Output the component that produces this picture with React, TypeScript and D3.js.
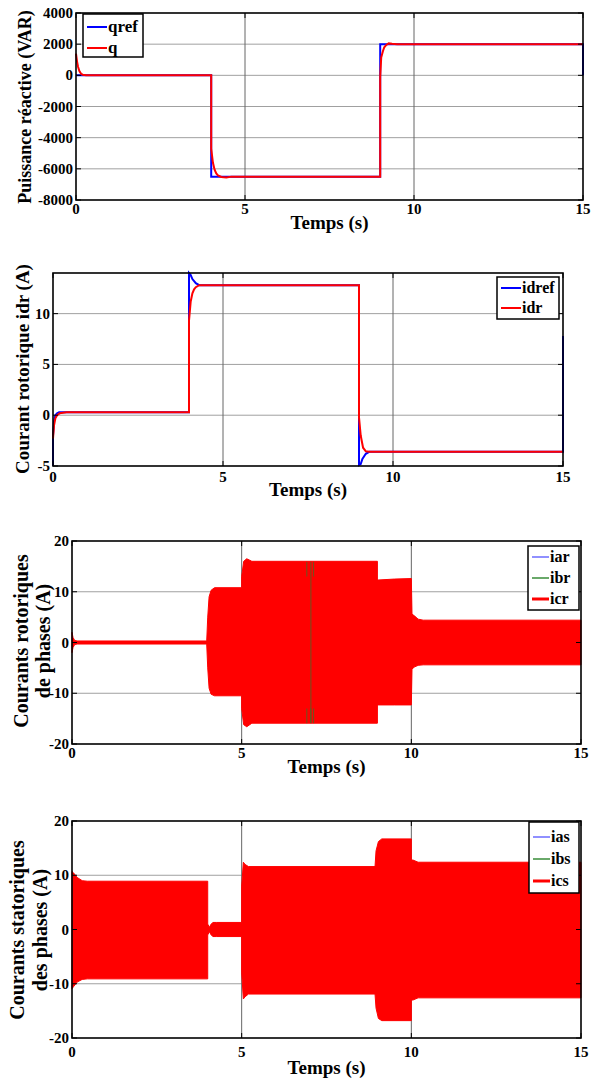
import React from 'react';
import * as d3 from 'd3';

// ---- Panel 1 : puissance réactive ----
const qrefT = [0, 4, 4, 9, 9, 15, 15];
const qrefV = [0, 0, -6500, -6500, 2000, 2000, 0];
const qT = [0, 0.03, 0.06, 0.1, 0.15, 0.2, 0.3, 4, 4, 4.05, 4.1, 4.15, 4.2, 4.3, 4.45, 4.6, 9, 9, 9.03, 9.08, 9.12, 9.18, 9.25, 9.35, 9.5, 15];
const qV = [1400, 900, 550, 280, 100, 40, 0, 0, -4700, -5600, -6050, -6300, -6420, -6520, -6560, -6500, -6500, -100, 1150, 1550, 1800, 1950, 2050, 2020, 2000, 2000];

// ---- Panel 2 : courant rotorique idr ----
const idrefT = [0, 0, 0.03, 0.07, 0.12, 0.18, 0.3, 4, 4, 4.05, 4.1, 4.2, 4.3, 9, 9, 9.05, 9.1, 9.2, 9.3, 15, 15];
const idrefV = [-5, -2, -0.6, 0, 0.2, 0.3, 0.3, 0.3, 14, 13.8, 13.4, 13.0, 12.8, 12.8, -4.9, -4.8, -4.3, -3.8, -3.6, -3.6, 7.8];
const idrT = [0, 0.03, 0.07, 0.12, 0.2, 0.4, 4, 4, 4.05, 4.1, 4.15, 4.2, 4.3, 9, 9, 9.05, 9.12, 9.2, 9.3, 15];
const idrV = [-2.3, -1.0, -0.3, 0, 0.2, 0.3, 0.3, 9.3, 11.2, 12.0, 12.4, 12.6, 12.8, 12.8, -0.2, -2.0, -3.2, -3.55, -3.6, -3.6];

// ---- Panel 3 : courants rotoriques (enveloppe) ----
const irT = [0, 0.03, 0.08, 0.15, 3.97, 4.0, 4.04, 4.1, 4.2, 5.0, 5.0, 5.06, 5.15, 5.3, 9.0, 9.0, 9.5, 10.0, 10.02, 10.1, 10.2, 10.35, 15];
const irUp = [2, 1, 0.4, 0.3, 0.3, 5, 9.0, 10.3, 10.8, 10.8, 13, 16.0, 16.5, 16.0, 16.0, 12.3, 12.5, 12.6, 5.6, 5.2, 4.6, 4.4, 4.4];
const irLo = [-2, -1, -0.4, -0.3, -0.3, -5, -9.0, -10.2, -10.5, -10.5, -13, -16.2, -16.6, -15.9, -15.9, -12.3, -12.3, -12.3, -5.2, -4.8, -4.5, -4.4, -4.4];
const ibrMarkT = [6.92, 7.04, 7.12];

// ---- Panel 4 : courants statoriques (enveloppe) ----
const isT = [0, 0.05, 0.15, 0.3, 0.45, 4.0, 4.0, 4.05, 4.09, 4.15, 4.25, 5.0, 5.0, 5.05, 5.1, 5.2, 8.93, 8.96, 9.03, 9.13, 10.0, 10.0, 10.05, 10.2, 15];
const isUp = [10.7, 10.4, 9.6, 9.0, 8.9, 8.9, 1.0, 0.4, 0.9, 1.3, 1.3, 1.3, 8, 12.4, 12.0, 11.6, 11.6, 14.5, 16.2, 16.7, 16.7, 12.8, 12.8, 12.4, 12.4];
const isLo = [-10.9, -10.5, -9.7, -9.2, -9.1, -9.1, -1.0, -0.4, -0.9, -1.3, -1.3, -1.3, -8, -12.8, -12.4, -11.9, -11.9, -14.5, -16.4, -16.8, -16.8, -13.0, -13.0, -12.6, -12.6];

const xTicks = [0, 5, 10, 15];
const FONT = '"Liberation Serif", "Times New Roman", serif';

type Box = { left: number; right: number; top: number; bottom: number };

const Frame = ({ box, yDomain, yTicks, children, xLabelY, tickLabelY }: any) => {
  const x = d3.scaleLinear().domain([0, 15]).range([box.left, box.right]);
  const y = d3.scaleLinear().domain(yDomain).range([box.bottom, box.top]);
  const tl = 5;
  return (
    <g>
      {yTicks.filter((t: number) => t > yDomain[0] && t < yDomain[1]).map((t: number) => (
        <line key={'gy' + t} x1={box.left} x2={box.right} y1={y(t)} y2={y(t)} stroke="#a0a0a0" strokeWidth={1} />
      ))}
      {xTicks.filter(t => t > 0 && t < 15).map(t => (
        <line key={'gx' + t} x1={x(t)} x2={x(t)} y1={box.top} y2={box.bottom} stroke="#666" strokeWidth={1} />
      ))}
      {children(x, y)}
      {yTicks.map((t: number) => (
        <g key={'ty' + t}>
          <line x1={box.left} x2={box.left + tl} y1={y(t)} y2={y(t)} stroke="#000" strokeWidth={1} />
          <line x1={box.right} x2={box.right - tl} y1={y(t)} y2={y(t)} stroke="#000" strokeWidth={1} />
          <text x={box.left - 3} y={y(t) + 5} textAnchor="end" fontFamily={FONT} fontWeight="bold" fontSize={15}>{t}</text>
        </g>
      ))}
      {xTicks.map(t => (
        <g key={'tx' + t}>
          <line x1={x(t)} x2={x(t)} y1={box.bottom} y2={box.bottom - tl} stroke="#000" strokeWidth={1} />
          <line x1={x(t)} x2={x(t)} y1={box.top} y2={box.top + tl} stroke="#000" strokeWidth={1} />
          <text x={x(t)} y={tickLabelY} textAnchor="middle" fontFamily={FONT} fontWeight="bold" fontSize={15}>{t}</text>
        </g>
      ))}
      <rect x={box.left} y={box.top} width={box.right - box.left} height={box.bottom - box.top} fill="none" stroke="#000" strokeWidth={1.6} />
      <text x={(box.left + box.right) / 2} y={xLabelY} textAnchor="middle" fontFamily={FONT} fontWeight="bold" fontSize={19}>Temps (s)</text>
    </g>
  );
};

const lineOf = (ts: number[], vs: number[], x: any, y: any) =>
  d3.line<number>().x((_, i) => x(ts[i])).y(v => y(v))(vs) || '';

const areaOf = (ts: number[], up: number[], lo: number[], x: any, y: any) =>
  d3.area<number>().x((_, i) => x(ts[i])).y0((_, i) => y(lo[i])).y1(v => y(v))(up) || '';

const Legend = ({ x, y, w, h, items, rowY, lineLen, size }: any) => (
  <g>
    <rect x={x} y={y} width={w} height={h} fill="#fff" stroke="#000" strokeWidth={1.5} />
    {items.map((it: any, i: number) => (
      <g key={it.name}>
        <line x1={x + 4} x2={x + 4 + lineLen} y1={rowY[i]} y2={rowY[i]} stroke={it.color} strokeWidth={it.width} />
        <text x={x + 5 + lineLen} y={rowY[i] + 5} fontFamily={FONT} fontWeight="bold" fontSize={size}>{it.name}</text>
      </g>
    ))}
  </g>
);

const YLabel = ({ lines, xs, cy, size }: any) => (
  <g>
    {lines.map((s: string, i: number) => (
      <text key={s} transform={`translate(${xs[i]},${cy}) rotate(-90)`} textAnchor="middle" fontFamily={FONT} fontWeight="bold" fontSize={size}>{s}</text>
    ))}
  </g>
);

export default function App() {
  const b1: Box = { left: 76, right: 583, top: 13, bottom: 200 };
  const b2: Box = { left: 53, right: 563, top: 273, bottom: 466 };
  const b3: Box = { left: 72, right: 581, top: 541, bottom: 744 };
  const b4: Box = { left: 72, right: 581, top: 821, bottom: 1038 };
  return (
    <svg width={591} height={1083} style={{ position: 'absolute', left: 0, top: 0, background: '#fff' }}>
      {/* Panel 1 */}
      <Frame box={b1} yDomain={[-8000, 4000]} yTicks={[-8000, -6000, -4000, -2000, 0, 2000, 4000]} tickLabelY={214} xLabelY={229}>
        {(x: any, y: any) => (
          <g>
            <path d={lineOf(qrefT, qrefV, x, y)} fill="none" stroke="#0000ff" strokeWidth={2} />
            <path d={lineOf(qT, qV, x, y)} fill="none" stroke="#ff0000" strokeWidth={2} />
          </g>
        )}
      </Frame>
      <Legend x={83} y={14} w={60} h={43} lineLen={20} rowY={[27, 48]} size={17}
        items={[{ name: 'qref', color: '#0000ff', width: 2 }, { name: 'q', color: '#ff0000', width: 2 }]} />
      <YLabel lines={['Puissance réactive (VAR)']} xs={[31]} cy={107} size={18}
      />

      {/* Panel 2 */}
      <Frame box={b2} yDomain={[-5, 14]} yTicks={[-5, 0, 5, 10]} tickLabelY={482} xLabelY={496}>
        {(x: any, y: any) => (
          <g>
            <path d={lineOf(idrefT, idrefV, x, y)} fill="none" stroke="#0000ff" strokeWidth={2} />
            <path d={lineOf(idrT, idrV, x, y)} fill="none" stroke="#ff0000" strokeWidth={2} />
          </g>
        )}
      </Frame>
      <Legend x={497} y={277} w={62} h={42} lineLen={20} rowY={[288, 308]} size={16}
        items={[{ name: 'idref', color: '#0000ff', width: 2 }, { name: 'idr', color: '#ff0000', width: 2 }]} />
      <YLabel lines={['Courant rotorique idr (A)']} xs={[29]} cy={369} size={19} />

      {/* Panel 3 */}
      <Frame box={b3} yDomain={[-20, 20]} yTicks={[-20, -10, 0, 10, 20]} tickLabelY={758} xLabelY={773}>
        {(x: any, y: any) => (
          <g>
            <path d={areaOf(irT, irUp, irLo, x, y)} fill="#ff0000" stroke="#ff0000" strokeWidth={1} />
            {ibrMarkT.map((t, i) => (
              <g key={t}>
                <line x1={x(t)} x2={x(t)} y1={y(15.9)} y2={y(i === 1 ? -15.9 : 13)} stroke="#2d7a2d" strokeWidth={0.7} />
                <line x1={x(t)} x2={x(t)} y1={y(-13)} y2={y(-15.9)} stroke="#2d7a2d" strokeWidth={0.7} />
              </g>
            ))}
          </g>
        )}
      </Frame>
      <Legend x={528} y={546} w={51} h={64} lineLen={17} rowY={[557, 578, 599]} size={16}
        items={[{ name: 'iar', color: '#6b6bff', width: 1.5 }, { name: 'ibr', color: '#1a7a1a', width: 1.3 }, { name: 'icr', color: '#ff0000', width: 3 }]} />
      <YLabel lines={['Courants rotoriques', 'de phases (A)']} xs={[28, 50]} cy={641} size={20} />

      {/* Panel 4 */}
      <Frame box={b4} yDomain={[-20, 20]} yTicks={[-20, -10, 0, 10, 20]} tickLabelY={1057} xLabelY={1074}>
        {(x: any, y: any) => (
          <path d={areaOf(isT, isUp, isLo, x, y)} fill="#ff0000" stroke="#ff0000" strokeWidth={1} />
        )}
      </Frame>
      <Legend x={529} y={822} w={50} h={71} lineLen={17} rowY={[837, 859, 881]} size={16}
        items={[{ name: 'ias', color: '#6b6bff', width: 1.5 }, { name: 'ibs', color: '#1a7a1a', width: 1.3 }, { name: 'ics', color: '#ff0000', width: 3 }]} />
      <YLabel lines={['Courants statoriques', 'des phases (A)']} xs={[24, 47]} cy={930} size={20} />
    </svg>
  );
}
